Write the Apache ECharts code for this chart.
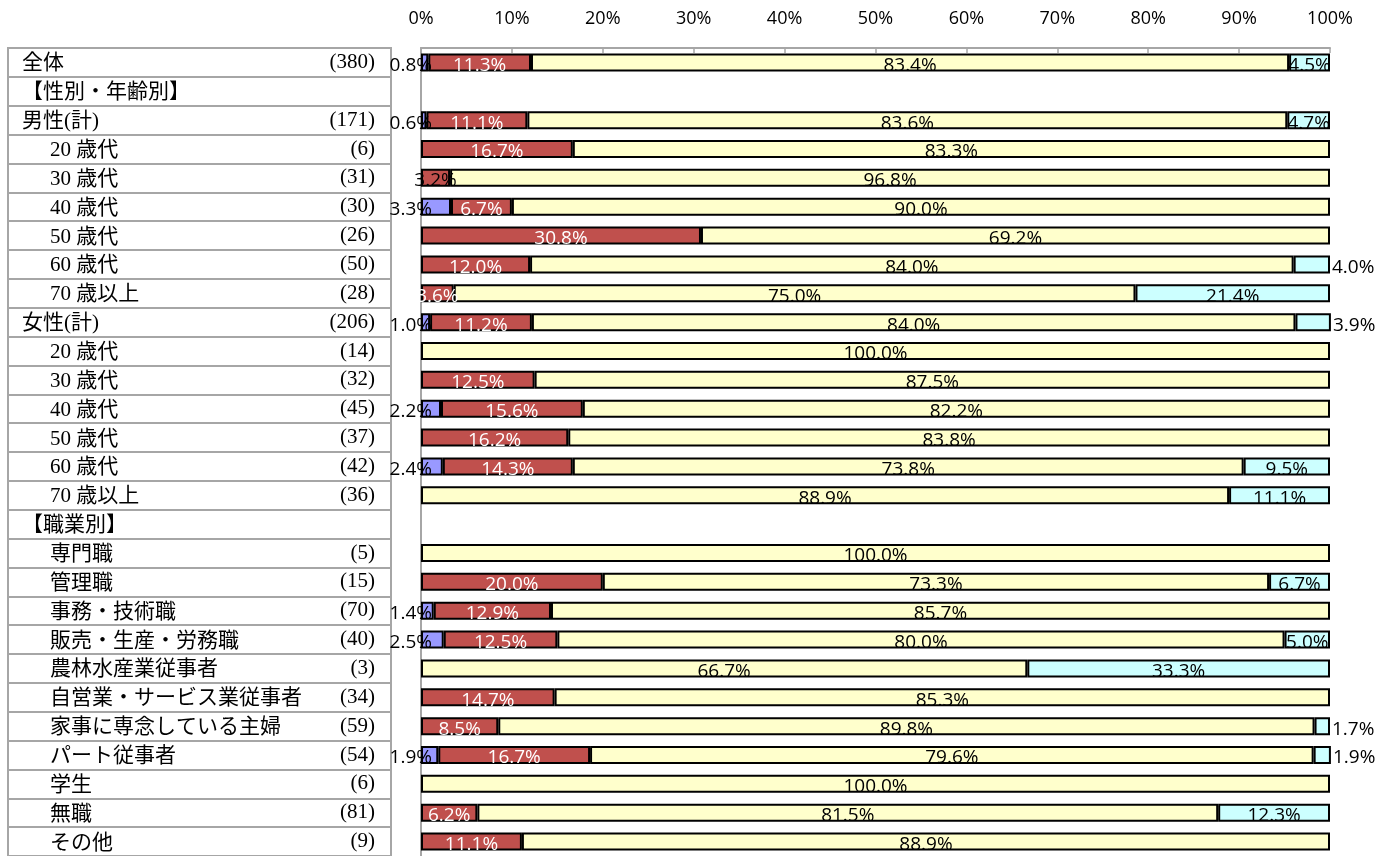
<!DOCTYPE html>
<html><head><meta charset="utf-8">
<script src="https://cdn.jsdelivr.net/npm/echarts@6/dist/echarts.min.js"></script>
<style>html,body{margin:0;padding:0;background:#fff}#c{width:1390px;height:856px}</style>
</head><body><div id="c"></div>
<script>
const categories = ['全体','【性別・年齢別】','男性(計)','20 歳代','30 歳代','40 歳代','50 歳代','60 歳代','70 歳以上','女性(計)','20 歳代','30 歳代','40 歳代','50 歳代','60 歳代','70 歳以上','【職業別】','専門職','管理職','事務・技術職','販売・生産・労務職','農林水産業従事者','自営業・サービス業従事者','家事に専念している主婦','パート従事者','学生','無職','その他'];
const counts = [380,null,171,6,31,30,26,50,28,206,14,32,45,37,42,36,null,5,15,70,40,3,34,59,54,6,81,9];
const seriesBlue   = [0.8,null,0.6,0,0,3.3,0,0,0,1.0,0,0,2.2,0,2.4,0,null,0,0,1.4,2.5,0,0,0,1.9,0,0,0];
const seriesRed    = [11.3,null,11.1,16.7,3.2,6.7,30.8,12.0,3.6,11.2,0,12.5,15.6,16.2,14.3,0,null,0,20.0,12.9,12.5,0,14.7,8.5,16.7,0,6.2,11.1];
const seriesYellow = [83.4,null,83.6,83.3,96.8,90.0,69.2,84.0,75.0,84.0,100.0,87.5,82.2,83.8,73.8,88.9,null,100.0,73.3,85.7,80.0,66.7,85.3,89.8,79.6,100.0,81.5,88.9];
const seriesCyan   = [4.5,null,4.7,0,0,0,0,4.0,21.4,3.9,0,0,0,0,9.5,11.1,null,0,6.7,0,5.0,33.3,0,1.7,1.9,0,12.3,0];
const xTicks = [0,10,20,30,40,50,60,70,80,90,100];

const GRAY = '#a6a6a6';
const LBL_FONT = '"Open Sans","Noto Sans",sans-serif';
const TBL_FONT = '"Liberation Serif","Noto Sans CJK JP",serif';
const TOP = 48, H = 812;
const topLevel = ['全体','男性(計)','女性(計)'];

function fmt(v){ return v.toFixed(1) + '%'; }
function mk(arr, fn){ return arr.map((v,i) => (v === null || v === 0) ? null : fn(v,i)); }

const chart = echarts.init(document.getElementById('c'), null, {renderer:'canvas'});
const baseLabel = {show:true, fontFamily:LBL_FONT, fontSize:19, offset:[0,3], formatter: p => fmt(p.value)};
const border = {borderColor:'#000', borderWidth:2};

chart.setOption({
  animation:false,
  grid:[
    {left:421, right:60, top:TOP, height:H},
    {left:8, width:383, top:TOP, height:H, show:true, borderColor:GRAY, borderWidth:2, backgroundColor:'transparent'}
  ],
  xAxis:[
    {gridIndex:0, type:'value', position:'top', min:0, max:100, interval:10,
     axisLine:{show:true, lineStyle:{color:GRAY, width:2}},
     axisTick:{show:true, inside:true, length:5, lineStyle:{color:GRAY, width:1.5}},
     splitLine:{show:false},
     axisLabel:{margin:20, color:'#000', fontFamily:LBL_FONT, fontSize:18,
       formatter: v => xTicks.indexOf(v) >= 0 ? v + '%' : ''}},
    {gridIndex:1, type:'value', min:0, max:1, show:false}
  ],
  yAxis:[
    {gridIndex:0, type:'category', inverse:true, data:categories,
     axisLine:{show:true, lineStyle:{color:GRAY, width:2}}, axisTick:{show:false}, axisLabel:{show:false}},
    {gridIndex:1, type:'category', inverse:true, data:categories, position:'left',
     axisLine:{show:false}, axisTick:{show:false},
     splitLine:{show:true, interval:0, lineStyle:{color:GRAY, width:2}},
     axisLabel:{inside:true, interval:0, margin:14, align:'left',
       formatter: (v) => (topLevel.indexOf(v) >= 0 || v.charAt(0) === '【') ? '{n|' + v + '}' : '{i|' + v + '}',
       rich:{
         n:{fontFamily:TBL_FONT, fontSize:21, color:'#000', padding:[3,0,0,0]},
         i:{fontFamily:TBL_FONT, fontSize:21, color:'#000', padding:[3,0,0,28]}
       }}},
    {gridIndex:1, type:'category', inverse:true, position:'right',
     data: counts.map(c => c === null ? '' : '(' + c + ')'),
     axisLine:{show:false}, axisTick:{show:false}, splitLine:{show:false},
     axisLabel:{inside:true, interval:0, margin:16, align:'right', fontFamily:TBL_FONT, fontSize:21, color:'#000', padding:[3,0,0,0]}}
  ],
  series:[
    {name:'blue', type:'bar', stack:'s', barWidth:18, xAxisIndex:0, yAxisIndex:0,
     itemStyle:Object.assign({color:'#9999ff'}, border),
     label:Object.assign({}, baseLabel, {position:'left', distance:-11, color:'#000'}),
     data: mk(seriesBlue, v => v)},
    {name:'red', type:'bar', stack:'s', barWidth:18,
     itemStyle:Object.assign({color:'#c0504d'}, border),
     label:Object.assign({}, baseLabel, {position:'inside', color:'#fff'}),
     data: mk(seriesRed, v => v < 3.4 ? {value:v, label:{color:'#000'}} : v)},
    {name:'yellow', type:'bar', stack:'s', barWidth:18,
     itemStyle:Object.assign({color:'#ffffcc'}, border),
     label:Object.assign({}, baseLabel, {position:'inside', color:'#000'}),
     data: mk(seriesYellow, v => v)},
    {name:'cyan', type:'bar', stack:'s', barWidth:18,
     itemStyle:Object.assign({color:'#ccffff'}, border),
     label:Object.assign({}, baseLabel, {position:'inside', color:'#000'}),
     data: mk(seriesCyan, v => v < 4.2 ? {value:v, label:{position:'right', distance:2}} : v)}
  ]
});
</script></body></html>
